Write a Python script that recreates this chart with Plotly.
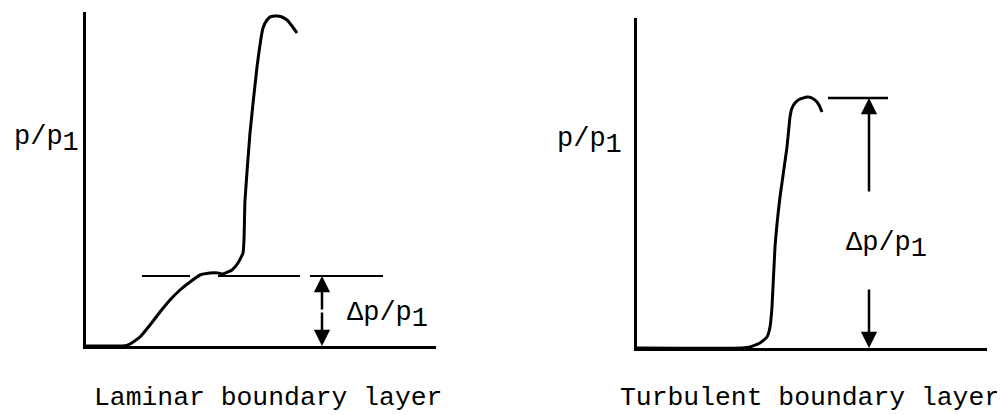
import plotly.graph_objects as go

# ---- data (arbitrary units) ----
# Laminar boundary layer pressure distribution
lam_x = [0, 30, 37, 44, 54, 64, 74, 84, 94, 104, 114, 124, 132, 137, 146, 152, 157, 158,
         159, 164, 171, 177, 181, 185, 191, 196, 201, 206, 211]
lam_y = [0, 0, 0, 2, 9, 21, 34, 46, 56, 64, 71, 73, 73, 72, 76, 83, 93, 106,
         146, 213, 279, 318, 326, 329.5, 330, 329, 326, 320, 313]
lam_plateau = 70
lam_dash_segments = [[56, 104], [132, 214], [224, 297]]
lam_dp_x = 236

# Turbulent boundary layer pressure distribution
tur_x = [0, 105, 113, 123, 130, 133, 135, 138, 143, 150, 153, 155, 158, 163, 170, 175, 180, 182.5, 185]
tur_y = [0, 0, 1, 5, 11, 21, 41, 101, 151, 201, 231, 240, 245, 249, 251, 250, 246, 242, 236]
tur_peak = 250
tur_peak_line = [191, 251]
tur_dp_x = 232
tur_arrow_gap = [60, 155]

ylabel = "p/p<sub><span style='font-size:27px'>1</span></sub>"
dplabel = "\u0394p/p<sub><span style='font-size:27px'>1</span></sub>"
titles = ["Laminar boundary layer", "Turbulent boundary layer"]

FONT = dict(family="Liberation Mono, Courier New, monospace", size=27, color="black")
TFONT = dict(family="Liberation Mono, Courier New, monospace", size=26.4, color="black")

W, H = 1005, 415
OFF = 8  # page body margin of the html page


def fx(px):
    return (px - OFF) / W


def fy(py):
    return (H - (py - OFF)) / H


fig = go.Figure()

line_style = dict(color="black", width=3, shape="spline", smoothing=0.4)
fig.add_trace(go.Scatter(x=lam_x, y=lam_y, mode="lines", line=line_style,
                         xaxis="x", yaxis="y", cliponaxis=False, showlegend=False, hoverinfo="skip"))
for seg in lam_dash_segments:
    fig.add_trace(go.Scatter(x=seg, y=[lam_plateau, lam_plateau], mode="lines", line=dict(color="black", width=2),
                             xaxis="x", yaxis="y", cliponaxis=False, showlegend=False, hoverinfo="skip"))

fig.add_trace(go.Scatter(x=tur_x, y=tur_y, mode="lines", line=line_style,
                         xaxis="x2", yaxis="y2", cliponaxis=False, showlegend=False, hoverinfo="skip"))
fig.add_trace(go.Scatter(x=tur_peak_line, y=[tur_peak, tur_peak], mode="lines", line=dict(color="black", width=2.5),
                         xaxis="x2", yaxis="y2", cliponaxis=False, showlegend=False, hoverinfo="skip"))

ax_common = dict(showline=True, linecolor="black", linewidth=3, showgrid=False, zeroline=False,
                 showticklabels=False, ticks="", fixedrange=True)

fig.update_layout(
    width=W, height=H,
    margin=dict(l=0, r=0, t=0, b=0),
    paper_bgcolor="white", plot_bgcolor="white",
    xaxis=dict(domain=[fx(86), fx(436)], range=[0, 350], anchor="y", **ax_common),
    yaxis=dict(domain=[fy(346), fy(12)], range=[0, 334], anchor="x", **ax_common),
    xaxis2=dict(domain=[fx(637), fx(987)], range=[0, 350], anchor="y2", **ax_common),
    yaxis2=dict(domain=[fy(348), fy(18)], range=[0, 330], anchor="x2", **ax_common),
)

ann = []
arrow_style = dict(showarrow=True, text="", arrowhead=2, arrowsize=1.3, arrowwidth=2.5, arrowcolor="black", standoff=0)
# laminar double arrow
mid = lam_plateau / 2
ann.append(dict(x=lam_dp_x, y=lam_plateau, ax=lam_dp_x, ay=mid, xref="x", yref="y", axref="x", ayref="y", **arrow_style))
ann.append(dict(x=lam_dp_x, y=0, ax=lam_dp_x, ay=mid, xref="x", yref="y", axref="x", ayref="y", **arrow_style))
# turbulent split arrow
ann.append(dict(x=tur_dp_x, y=tur_peak, ax=tur_dp_x, ay=tur_arrow_gap[1], xref="x2", yref="y2", axref="x2", ayref="y2", **arrow_style))
ann.append(dict(x=tur_dp_x, y=0, ax=tur_dp_x, ay=tur_arrow_gap[0], xref="x2", yref="y2", axref="x2", ayref="y2", **arrow_style))

# labels
ann.append(dict(x=fx(12), y=fy(140), xref="paper", yref="paper", text=ylabel, showarrow=False, xanchor="left", yanchor="middle", font=FONT))
ann.append(dict(x=fx(555), y=fy(142), xref="paper", yref="paper", text=ylabel, showarrow=False, xanchor="left", yanchor="middle", font=FONT))
ann.append(dict(x=259, y=30, xref="x", yref="y", text=dplabel, showarrow=False, xanchor="left", yanchor="middle", font=FONT))
ann.append(dict(x=207, y=102, xref="x2", yref="y2", text=dplabel, showarrow=False, xanchor="left", yanchor="middle", font=FONT))
ann.append(dict(x=fx(268), y=fy(398), xref="paper", yref="paper", text=titles[0], showarrow=False, xanchor="center", yanchor="middle", font=TFONT))
ann.append(dict(x=fx(810), y=fy(398), xref="paper", yref="paper", text=titles[1], showarrow=False, xanchor="center", yanchor="middle", font=TFONT))

fig.update_layout(annotations=ann)
fig.write_html("out.html")
